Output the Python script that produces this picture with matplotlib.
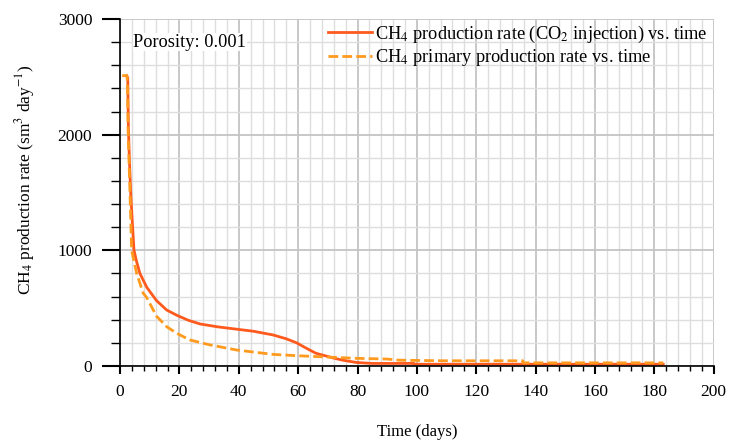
import numpy as np
import matplotlib.pyplot as plt
from matplotlib.ticker import MultipleLocator

plt.rcParams.update({'font.family': 'Liberation Serif',
                     'mathtext.fontset': 'stix',
                     'font.size': 12.5})

# CH4 production rate with CO2 injection
t_inj = [2.2, 2.6, 2.8, 3.2, 3.6, 4.0, 4.7, 5.6, 6.7, 9.0, 12.3, 15.7, 19.0, 23.0, 27.0,
         33.0, 39.3, 45.0, 51.6, 56.0, 59.5, 63.0, 66.0, 71.7, 75.0, 79.7, 85.0, 99.0,
         99.1, 140.0, 183.0]
q_inj = [2510, 2490, 2070, 1750, 1490, 1300, 1000, 900, 800, 680, 565, 484, 440, 395, 363,
         338, 318, 300, 268, 235, 200, 150, 110, 70, 50, 30, 22, 22,
         15, 15, 15]

# CH4 primary production rate
t_pri = [0.7, 2.3, 2.5, 2.7, 3.1, 3.4, 3.9, 5.6, 7.8, 9.0, 12.3, 15.7, 19.0, 23.5, 30.3,
         39.3, 51.6, 59.5, 71.7, 79.7, 90.0, 94.0, 109.0, 135.7, 135.8, 183.0]
q_pri = [2510, 2510, 2450, 2050, 1700, 1450, 1000, 800, 630, 590, 430, 340, 284, 225, 182,
         138, 100, 89, 75, 66, 60, 50, 45, 45, 27, 27]

fig = plt.figure(figsize=(7.32, 4.42), dpi=100)
ax = fig.add_axes([0.164, 0.172, 0.811, 0.785])

ax.plot(t_inj, q_inj, color='#ff5a1e', lw=2,
        label=r'CH$_4$ production rate (CO$_2$ injection) vs. time')
ax.plot(t_pri, q_pri, color='#ff9a1e', lw=2, ls=(0, (3.5, 1.5)),
        label=r'CH$_4$ primary production rate vs. time')

ax.set_xlim(0, 200)
ax.set_ylim(0, 3000)
ax.xaxis.set_major_locator(MultipleLocator(20))
ax.xaxis.set_minor_locator(MultipleLocator(4))
ax.yaxis.set_major_locator(MultipleLocator(1000))
ax.yaxis.set_minor_locator(MultipleLocator(200))
ax.grid(which='major', color='#c4c4c4', lw=1.3)
ax.grid(which='minor', color='#dedede', lw=1.0)
ax.set_axisbelow(True)

for s in ['top', 'right']:
    ax.spines[s].set_visible(False)
for s in ['left', 'bottom']:
    ax.spines[s].set_linewidth(1.2)
ax.tick_params(axis='x', which='major', direction='out', length=6, width=1.5, pad=7)
ax.tick_params(axis='x', which='minor', direction='out', length=3.5, width=1)
ax.tick_params(axis='y', which='major', direction='out', length=13, width=1.5, pad=7)
ax.tick_params(axis='y', which='minor', direction='out', length=6.5, width=1)

ax.set_xlabel('Time (days)', fontsize=12, labelpad=17)
ax.set_ylabel(r'CH$_4$ production rate (sm$^3$ day$^{-1}$)')
ax.yaxis.set_label_coords(-0.14, 0.536)

ax.text(4.5, 2800, 'Porosity: 0.001', va='center', ha='left', fontsize=13.2,
        bbox=dict(facecolor='white', edgecolor='none', pad=0.5))
ax.legend(loc='upper right', bbox_to_anchor=(0.993, 0.992), frameon=False,
          fontsize=13.2, handlelength=2.4, borderaxespad=0.0, borderpad=0.1,
          labelspacing=0.15, handletextpad=0.2)

fig.savefig('out.png')
